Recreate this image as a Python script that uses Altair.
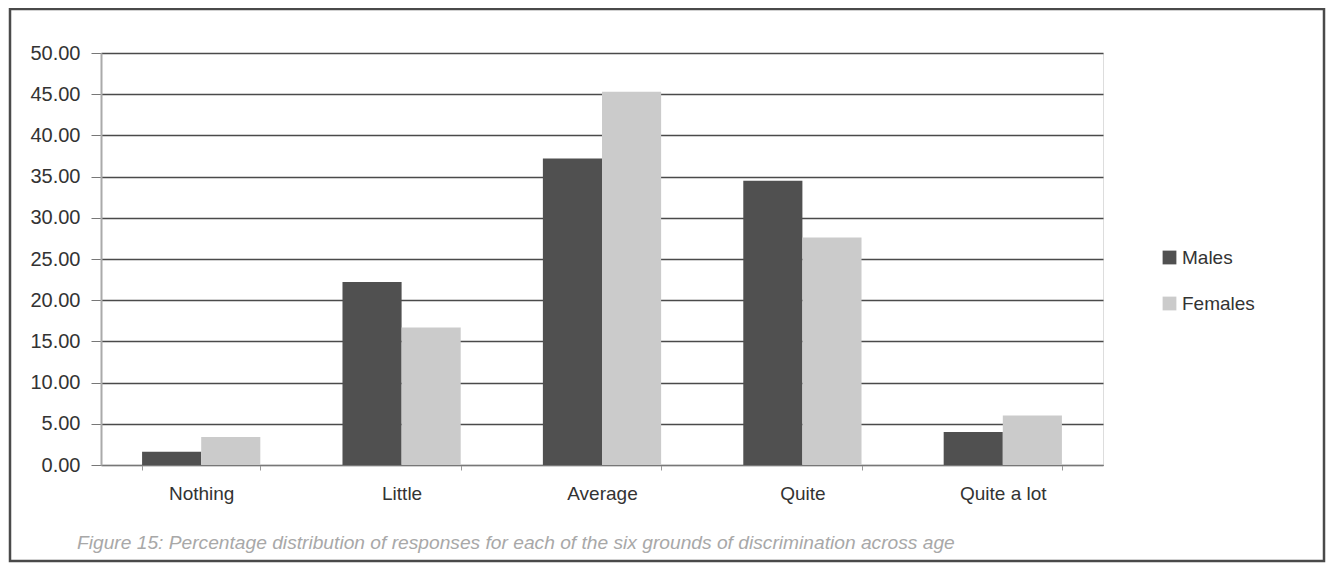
import altair as alt
import pandas as pd

categories = ["Nothing", "Little", "Average", "Quite", "Quite a lot"]
males = [1.6, 22.2, 37.2, 34.5, 4.0]
females = [3.4, 16.7, 45.3, 27.6, 6.0]
series = ["Males", "Females"]
caption = "Figure 15: Percentage distribution of responses for each of the six grounds of discrimination across age"

rows = []
for c, m, f in zip(categories, males, females):
    rows.append({"cat": c, "sex": "Males", "val": m})
    rows.append({"cat": c, "sex": "Females", "val": f})
df = pd.DataFrame(rows)

FONT = "Liberation Sans"

bars = alt.Chart(df).mark_bar().encode(
    x=alt.X("cat:N", sort=categories, title=None,
            scale=alt.Scale(paddingInner=0.41, paddingOuter=0.205),
            axis=alt.Axis(labelAngle=0, labelFontSize=19, labelColor="#333333",
                          labelPadding=14, tickBand="extent", tickSize=5,
                          tickColor="#999999", domainColor="#777777", grid=False,
                          labelFont=FONT)),
    xOffset=alt.XOffset("sex:N", sort=series),
    y=alt.Y("val:Q", title=None,
            scale=alt.Scale(domain=[0, 50], nice=False),
            axis=alt.Axis(values=[0, 5, 10, 15, 20, 25, 30, 35, 40, 45, 50],
                          format=".2f", labelFontSize=20, labelColor="#333333",
                          labelPadding=11, tickSize=10, tickColor="#777777",
                          domainColor="#aaaaaa", domainWidth=2,
                          gridColor="#4a4a4a", gridWidth=1.3, labelFont=FONT)),
    color=alt.Color("sex:N", sort=series,
                    scale=alt.Scale(domain=series, range=["#505050", "#cbcbcb"]),
                    legend=alt.Legend(title=None, orient="none", legendX=1059,
                                      legendY=195, symbolType="square",
                                      symbolSize=190, labelFontSize=19,
                                      labelColor="#333333", rowPadding=26,
                                      labelOffset=3,
                                      symbolStrokeWidth=0, labelFont=FONT)),
)

cap = alt.Chart(pd.DataFrame({"t": [caption]})).mark_text(
    align="left", baseline="middle", fontSize=19.2, fontStyle="italic",
    color="#a8a8a8", font=FONT
).encode(text="t:N", x=alt.value(-24), y=alt.value(490))

frame = alt.Chart(pd.DataFrame({"a": [0]})).mark_rect(
    fill=None, stroke="#4a4a4a", strokeWidth=2.5, clip=False
).encode(x=alt.value(-91), x2=alt.value(1223), y=alt.value(-44), y2=alt.value(508))

chart = alt.layer(frame, bars, cap).properties(
    width=1002, height=412,
    autosize=alt.AutoSizeParams(type="none"),
    padding={"left": 93, "top": 45, "right": 223, "bottom": 99},
).configure_view(stroke=None).configure(font=FONT)

chart.save("out.html", embed_options={"renderer": "svg", "actions": False})
